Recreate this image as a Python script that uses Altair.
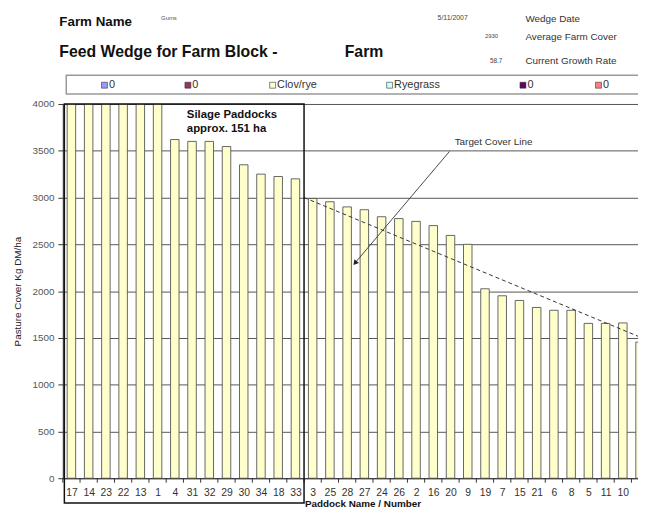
import altair as alt
import pandas as pd

# ---- data ----
paddocks = ["17", "14", "23", "22", "13", "1", "4", "31", "32", "29", "30", "34", "18", "33",
            "3", "25", "28", "27", "24", "26", "2", "16", "20", "9", "19", "7", "15", "21",
            "6", "8", "5", "11", "10", "12"]
cover = [4000, 4000, 4000, 4000, 4000, 4000, 3620, 3600, 3600, 3545, 3350, 3250, 3225, 3200,
         2990, 2955, 2900, 2870, 2795, 2775, 2745, 2700, 2595, 2500, 2025, 1950, 1900, 1825,
         1795, 1795, 1655, 1655, 1660, 1455]

target_x = [13.5, 33.5]
target_y = [3000, 1470]

legend_names = ["0", "0", "Clov/rye", "Ryegrass", "0", "0"]
legend_colors = ["#9999FF", "#993366", "#FFFFCC", "#CCFFFF", "#660066", "#FF8080"]

header_labels = ["Wedge Date", "Average Farm Cover", "Current Growth Rate"]
header_values = ["5/11/2007", "2930", "58.7"]
farm_name = "Gums"

silage_lines = ["Silage Paddocks", "approx. 151 ha"]

# ---- layout ----
FONT = "Liberation Sans"
W, H = 582.5, 379
OX, OY = 63.5, 102  # page position of plot origin

def px(x):
    return x - OX

def py(y):
    return y - OY

xs = alt.Scale(domain=[-0.5, 32.88], nice=False, zero=False, padding=0)
ys = alt.Scale(domain=[0, 4000], nice=False, zero=False, padding=0)

xaxis = alt.Axis(
    values=list(range(len(paddocks))),
    labelExpr="[" + ",".join("'%s'" % p for p in paddocks) + "][datum.value]",
    ticks=False, grid=False, labelPadding=10, labelFontSize=10.5, labelColor="#333",
    domainColor="#333", labelAngle=0, labelFont=FONT,
    title="Paddock Name / Number", titleFontSize=10, titleFontWeight="bold",
    titleColor="#111", titleX=303.5, titleY=26, titleBaseline="middle", titleFont=FONT,
)
yaxis = alt.Axis(
    values=list(range(0, 4001, 500)), format="d", grid=True, gridColor="#555", gridWidth=1,
    tickSize=5, tickColor="#333", domainColor="#333", labelPadding=4,
    labelFontSize=10, labelColor="#555", labelFont=FONT,
    title="Pasture Cover Kg DM/ha", titleFontSize=10, titleFontWeight="normal",
    titleColor="#222", titlePadding=10, titleFont=FONT,
)

def X(f):
    return alt.X(f, type="quantitative", scale=xs, axis=xaxis)

def Y(f):
    return alt.Y(f, type="quantitative", scale=ys, axis=yaxis)

df = pd.DataFrame({"idx": list(range(len(paddocks))), "paddock": paddocks, "cover": cover})

bars = alt.Chart(df).mark_bar(size=8.6, fill="#FFFFCC", stroke="#555", strokeWidth=0.9, clip=True).encode(
    x=X("idx"), y=Y("cover"), tooltip=["paddock", "cover"]
)

bounds = pd.DataFrame({"b": [i - 0.5 for i in range(len(paddocks))]})
xticks = alt.Chart(bounds).mark_rule(color="#333", strokeWidth=1, clip=False).encode(
    x=X("b"), y=alt.value(H), y2=alt.value(H + 4.5)
)
xticks = xticks.transform_filter("datum.b <= 32.88")

tdf = pd.DataFrame({"tx": target_x, "ty": target_y})
target = alt.Chart(tdf).mark_line(color="#333", strokeWidth=1, strokeDash=[4, 3], clip=True).encode(
    x=X("tx"), y=Y("ty")
)

silage_box = alt.Chart(pd.DataFrame({"x1": [-0.41], "x2": [13.5], "y1": [4000], "y2": [-264]})).mark_rect(
    fill="transparent", stroke="#111", strokeWidth=1.5
).encode(x=X("x1"), x2="x2", y=Y("y1"), y2="y2")

silage_text = alt.Chart(pd.DataFrame({"t": silage_lines, "tx": [6.7, 6.7], "ty": [3879, 3736]})).mark_text(
    align="left", baseline="middle", fontSize=11.5, fontWeight="bold", color="#111", font=FONT
).encode(x=X("tx"), y=Y("ty"), text="t")

arrow_line = alt.Chart(pd.DataFrame({"x1": [21.94], "x2": [16.46], "y1": [3493], "y2": [2301]})).mark_rule(
    color="#333", strokeWidth=0.9
).encode(x=X("x1"), x2="x2", y=Y("y1"), y2="y2")

arrow_head = alt.Chart(pd.DataFrame({"ax": [16.46], "ay": [2301]})).mark_point(
    shape="triangle-up", filled=True, size=35, angle=220, color="#222", opacity=1
).encode(x=X("ax"), y=Y("ay"))

arrow_text = alt.Chart(pd.DataFrame({"t": ["Target Cover Line"], "tx": [24.5], "ty": [3588]})).mark_text(
    align="center", baseline="middle", fontSize=10, color="#333", font=FONT
).encode(x=X("tx"), y=Y("ty"), text="t")

one = pd.DataFrame({"a": [0]})

legend_box = alt.Chart(one).mark_rect(fill="white", stroke="#999", strokeWidth=1.5).encode(
    x=alt.value(px(67)), x2=alt.value(W + 20), y=alt.value(py(73)), y2=alt.value(py(92))
)

legend_sq_x = [105.7, 190.2, 276.0, 394.5, 529.5, 606.0]
legend_layers = []
for name, col, sx in zip(legend_names, legend_colors, legend_sq_x):
    legend_layers.append(
        alt.Chart(one).mark_square(size=36, fill=col, stroke="#333", strokeWidth=0.6, opacity=1).encode(
            x=alt.value(px(sx)), y=alt.value(py(83))
        )
    )
    legend_layers.append(
        alt.Chart(pd.DataFrame({"t": [name]})).mark_text(
            align="left", baseline="middle", fontSize=11, color="#333", font=FONT
        ).encode(x=alt.value(px(sx + 4.5)), y=alt.value(py(83)), text="t")
    )

header_specs = [
    ("Farm Name", 60, 23, 13.5, "bold", "#111"),
    (farm_name, 163, 17, 6, "normal", "#555"),
    ("Feed Wedge for Farm Block -", 60, 54, 16, "bold", "#111"),
    ("Farm", 349, 54, 16, "bold", "#111"),
    (header_values[0], 443, 17, 7, "normal", "#444"),
    (header_labels[0], 532, 19, 10, "normal", "#333"),
    (header_values[1], 491, 35, 6, "normal", "#444"),
    (header_labels[1], 532, 37, 10, "normal", "#333"),
    (header_values[2], 496, 61, 6.5, "normal", "#444"),
    (header_labels[2], 532, 62, 10, "normal", "#333"),
]
header_layers = []
for t, hx, hy, fs, fw, col in header_specs:
    header_layers.append(
        alt.Chart(pd.DataFrame({"t": [t]})).mark_text(
            align="left", baseline="alphabetic", fontSize=fs, fontWeight=fw, color=col, font=FONT
        ).encode(x=alt.value(px(hx)), y=alt.value(py(hy)), text="t")
    )

chart = alt.layer(
    bars, xticks, target, silage_box, silage_text, arrow_line, arrow_head, arrow_text,
    legend_box, *legend_layers, *header_layers
).properties(
    width=W, height=H,
    padding={"left": OX - 8, "top": OY - 8, "right": 0, "bottom": 31},
    autosize=alt.AutoSizeParams(type="none"),
).configure_view(
    fill="#F7EEDB", stroke="transparent"
).configure(font=FONT)

chart.save("out.html", embed_options={"renderer": "svg", "actions": False})
